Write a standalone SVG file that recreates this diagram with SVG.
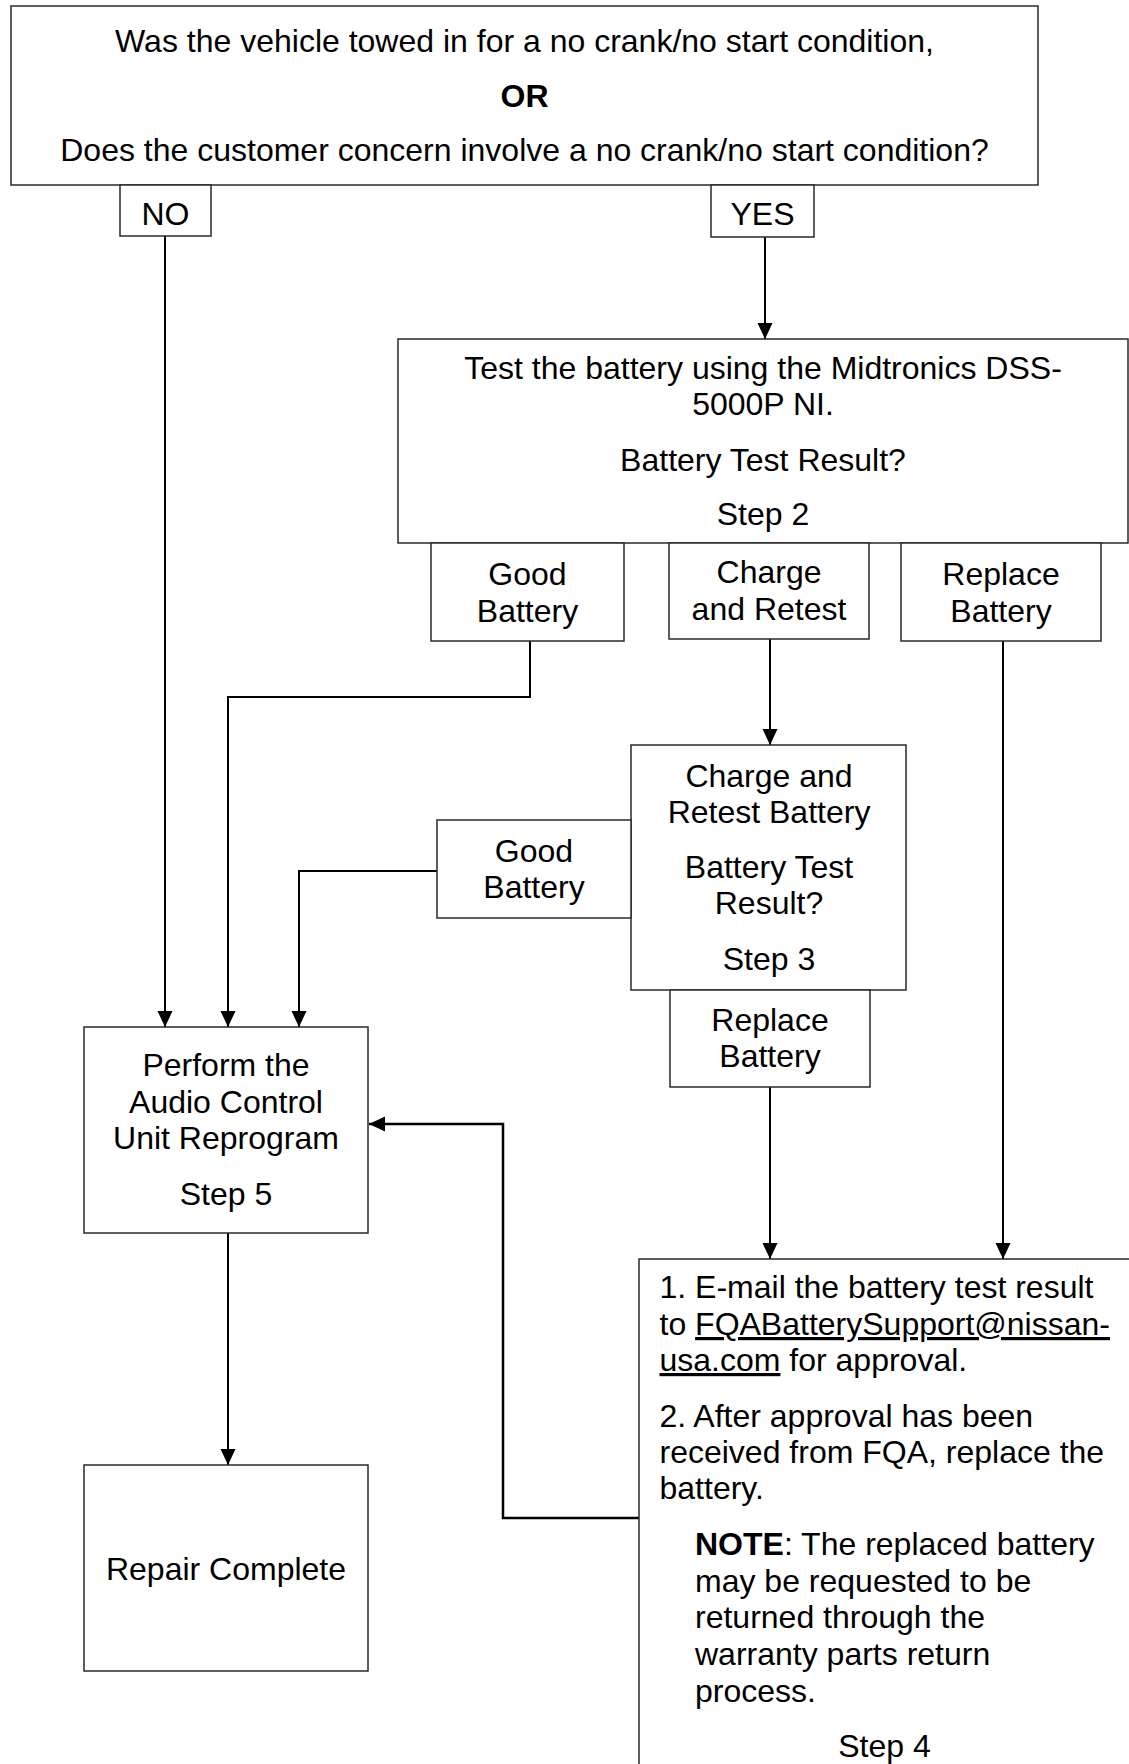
<svg xmlns="http://www.w3.org/2000/svg" width="1129" height="1764" viewBox="0 0 1129 1764">
<style>
  .box { fill: #ffffff; stroke: #2a2a2a; stroke-width: 1.5; }
  .conn { fill: none; stroke: #000000; stroke-width: 2; }
  text { font-family: "Liberation Sans", Arial, sans-serif; font-size: 32px; fill: #000000; }
  .c { text-anchor: middle; }
  .b { font-weight: bold; }
  .u { text-decoration: underline; text-decoration-thickness: 2.5px; }
</style>
<defs>
  <marker id="arr" markerUnits="userSpaceOnUse" markerWidth="16" markerHeight="16" refX="16" refY="8" orient="auto">
    <path d="M0,0.5 L16,8 L0,15.5 z" fill="#000000"/>
  </marker>
</defs>
<rect width="1129" height="1764" fill="#ffffff"/>

<g id="connectors">
  <polyline class="conn" points="165,236 165,1027" marker-end="url(#arr)"/>
  <polyline class="conn" points="765,237 765,339" marker-end="url(#arr)"/>
  <polyline class="conn" points="530,641 530,697 228,697 228,1027" marker-end="url(#arr)"/>
  <polyline class="conn" points="770,639 770,745" marker-end="url(#arr)"/>
  <polyline class="conn" points="1003,641 1003,1259" marker-end="url(#arr)"/>
  <polyline class="conn" points="437,871 299,871 299,1027" marker-end="url(#arr)"/>
  <polyline class="conn" points="770,1087 770,1259" marker-end="url(#arr)"/>
  <polyline class="conn" points="228,1233 228,1465" marker-end="url(#arr)"/>
  <polyline class="conn" points="639,1518 503,1518 503,1124 369,1124" marker-end="url(#arr)" style="stroke-width:2.5"/>
</g>

<g id="q1">
  <rect class="box" x="11" y="6" width="1027" height="179"/>
  <text class="c" x="524.5" y="52">Was the vehicle towed in for a no crank/no start condition,</text>
  <text class="c b" x="524.5" y="107">OR</text>
  <text class="c" x="524.5" y="161">Does the customer concern involve a no crank/no start condition?</text>
</g>
<g id="no">
  <rect class="box" x="120" y="185" width="91" height="51"/>
  <text class="c" x="165.5" y="225">NO</text>
</g>
<g id="yes">
  <rect class="box" x="711" y="185" width="103" height="52"/>
  <text class="c" x="762.5" y="225">YES</text>
</g>
<g id="step2">
  <rect class="box" x="398" y="339" width="730" height="204"/>
  <text class="c" x="763" y="379">Test the battery using the Midtronics DSS-</text>
  <text class="c" x="763" y="415">5000P NI.</text>
  <text class="c" x="763" y="471">Battery Test Result?</text>
  <text class="c" x="763" y="525">Step 2</text>
</g>
<g id="good1">
  <rect class="box" x="431" y="543" width="193" height="98"/>
  <text class="c" x="527.5" y="585">Good</text>
  <text class="c" x="527.5" y="622">Battery</text>
</g>
<g id="charge1">
  <rect class="box" x="669" y="543" width="200" height="96"/>
  <text class="c" x="769" y="583">Charge</text>
  <text class="c" x="769" y="620">and Retest</text>
</g>
<g id="replace1">
  <rect class="box" x="901" y="543" width="200" height="98"/>
  <text class="c" x="1001" y="585">Replace</text>
  <text class="c" x="1001" y="622">Battery</text>
</g>
<g id="step3">
  <rect class="box" x="631" y="745" width="275" height="245"/>
  <text class="c" x="769" y="787">Charge and</text>
  <text class="c" x="769" y="823">Retest Battery</text>
  <text class="c" x="769" y="878">Battery Test</text>
  <text class="c" x="769" y="914">Result?</text>
  <text class="c" x="769" y="970">Step 3</text>
</g>
<g id="good2">
  <rect class="box" x="437" y="820" width="194" height="98"/>
  <text class="c" x="534" y="862">Good</text>
  <text class="c" x="534" y="898">Battery</text>
</g>
<g id="replace2">
  <rect class="box" x="670" y="990" width="200" height="97"/>
  <text class="c" x="770" y="1031">Replace</text>
  <text class="c" x="770" y="1067">Battery</text>
</g>
<g id="step5">
  <rect class="box" x="84" y="1027" width="284" height="206"/>
  <text class="c" x="226" y="1076">Perform the</text>
  <text class="c" x="226" y="1113">Audio Control</text>
  <text class="c" x="226" y="1149">Unit Reprogram</text>
  <text class="c" x="226" y="1205">Step 5</text>
</g>
<g id="repair">
  <rect class="box" x="84" y="1465" width="284" height="206"/>
  <text class="c" x="226" y="1580">Repair Complete</text>
</g>
<g id="step4">
  <rect class="box" x="639" y="1259" width="520" height="560"/>
  <text x="659.5" y="1298">1. E-mail the battery test result</text>
  <text x="659.5" y="1335">to <tspan class="u">FQABatterySupport@nissan-</tspan></text>
  <text x="659.5" y="1371"><tspan class="u">usa.com</tspan> for approval.</text>
  <text x="659.5" y="1427">2. After approval has been</text>
  <text x="659.5" y="1463">received from FQA, replace the</text>
  <text x="659.5" y="1499">battery.</text>
  <text x="695" y="1555"><tspan class="b">NOTE</tspan>: The replaced battery</text>
  <text x="695" y="1592">may be requested to be</text>
  <text x="695" y="1628">returned through the</text>
  <text x="695" y="1665">warranty parts return</text>
  <text x="695" y="1702">process.</text>
  <text class="c" x="884.5" y="1757">Step 4</text>
</g>
</svg>
